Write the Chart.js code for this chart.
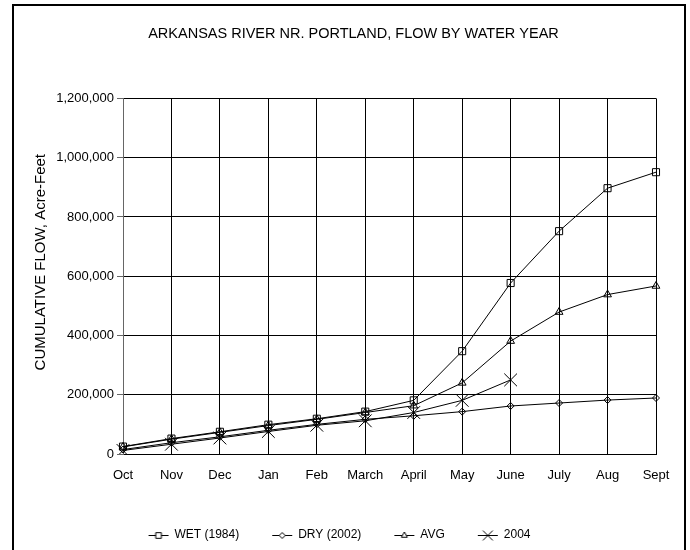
<!DOCTYPE html>
<html>
<head>
<meta charset="utf-8">
<script src="https://cdn.jsdelivr.net/npm/chart.js@4/dist/chart.umd.min.js"></script>
<style>
  html, body { margin: 0; padding: 0; background: #fff; overflow: hidden; }
  #wrap { position: relative; width: 690px; height: 550px; }
  #frame { position: absolute; left: 12px; top: 4px; width: 674px; height: 600px; border: 2px solid #000; box-sizing: border-box; pointer-events: none; }
  canvas { position: absolute; left: 0; top: 0; }
</style>
</head>
<body>
<div id="wrap">
  <canvas id="c" width="690" height="550"></canvas>
  <div id="frame"></div>
</div>
<script>
const months = ["Oct","Nov","Dec","Jan","Feb","March","April","May","June","July","Aug","Sept"];
const wet1984 = [25000, 52000, 75000, 99000, 119000, 143000, 181000, 347000, 577000, 752000, 897000, 951000];
const dry2002 = [15000, 38000, 58000, 80000, 100000, 117000, 129000, 143000, 162000, 172000, 182000, 189000];
const avgFlow = [24000, 50000, 73000, 96000, 117000, 140000, 163000, 240000, 381000, 479000, 538000, 567000];
const wy2004 = [12000, 33000, 54000, 76000, 97000, 112000, 140000, 181000, 250000, null, null, null];
const seriesNames = ["WET (1984)", "DRY (2002)", "AVG", "2004"];
const yTicks = [0, 200000, 400000, 600000, 800000, 1000000, 1200000];

const FONT = "'Liberation Sans', Arial, sans-serif";

function legendIcon(style, radius) {
  const cv = document.createElement('canvas');
  cv.width = 26; cv.height = 14;
  const g = cv.getContext('2d');
  g.strokeStyle = '#000'; g.lineWidth = 1;
  g.beginPath(); g.moveTo(3, 7.5); g.lineTo(23, 7.5); g.stroke();
  g.fillStyle = '#fff';
  Chart.helpers.drawPoint(g, {pointStyle: style, radius: radius, borderWidth: 1, rotation: 0}, 13, 7.5);
  return cv;
}

const styles = [
  {style: 'rect', r: 5, lr: 4},
  {style: 'rectRot', r: 3.5, lr: 3},
  {style: 'triangle', r: 4.5, lr: 3.5},
  {style: 'crossRot', r: 9, lr: 7}
];
const seriesData = [wet1984, dry2002, avgFlow, wy2004];

const yTitlePlugin = {
  id: 'yTitle',
  afterLayout(chart) {
    if (chart.legend) { chart.legend.left -= 14; chart.legend.right -= 14; }
  },
  afterDraw(chart) {
    const ctx = chart.ctx;
    const a = chart.chartArea;
    ctx.save();
    ctx.translate(41, (a.top + a.bottom) / 2 - 14);
    ctx.rotate(-Math.PI / 2);
    ctx.font = "15px " + FONT;
    ctx.fillStyle = '#000';
    ctx.textAlign = 'center';
    ctx.textBaseline = 'middle';
    ctx.fillText("CUMULATIVE FLOW, Acre-Feet", 0, 0);
    ctx.restore();
  }
};

new Chart(document.getElementById('c'), {
  type: 'line',
  data: {
    labels: months,
    datasets: seriesData.map((d, i) => ({
      label: seriesNames[i],
      data: d,
      borderColor: '#000',
      borderWidth: 1,
      backgroundColor: 'rgba(0,0,0,0)',
      pointStyle: styles[i].style,
      pointRadius: styles[i].r,
      pointBorderColor: '#000',
      pointBorderWidth: 1,
      pointBackgroundColor: 'rgba(0,0,0,0)',
      tension: 0,
      spanGaps: false,
      fill: false
    }))
  },
  options: {
    responsive: false,
    animation: false,
    devicePixelRatio: 1,
    layout: { padding: { left: 51, right: 34, top: 0, bottom: -1 } },
    plugins: {
      title: {
        display: true,
        text: "ARKANSAS RIVER NR. PORTLAND, FLOW BY WATER YEAR",
        color: '#000',
        font: { family: FONT, size: 14.5, weight: 'normal' },
        padding: { top: 25, bottom: 56 }
      },
      legend: {
        position: 'bottom',
        labels: {
          color: '#000',
          font: { family: FONT, size: 12 },
          usePointStyle: true,
          pointStyleWidth: 20,
          padding: 33,
          generateLabels(chart) {
            return chart.data.datasets.map((ds, i) => ({
              text: ds.label,
              pointStyle: legendIcon(styles[i].style, styles[i].lr),
              fillStyle: 'rgba(0,0,0,0)',
              strokeStyle: '#000',
              lineWidth: 0,
              fontColor: '#000',
              datasetIndex: i,
              hidden: false
            }));
          }
        }
      },
      tooltip: { enabled: false }
    },
    scales: {
      x: {
        grid: { color: '#000', lineWidth: 1, drawTicks: false },
        border: { color: '#000', width: 1 },
        ticks: { color: '#000', font: { family: FONT, size: 13 }, padding: 14, maxRotation: 0, autoSkip: false },
        afterFit(scale) { scale.height = 42; }
      },
      y: {
        min: 0,
        max: 1200000,
        afterBuildTicks(scale) { scale.ticks = yTicks.map(v => ({ value: v })); },
        grid: { color: '#000', lineWidth: 1, tickLength: 6, tickColor: '#666' },
        border: { color: '#666', width: 1 },
        ticks: {
          color: '#000',
          font: { family: FONT, size: 13 },
          padding: 3,
          callback: (v) => v.toLocaleString('en-US')
        },
        afterFit(scale) { scale.width = 72; }
      }
    }
  },
  plugins: [yTitlePlugin]
});
</script>
</body>
</html>
